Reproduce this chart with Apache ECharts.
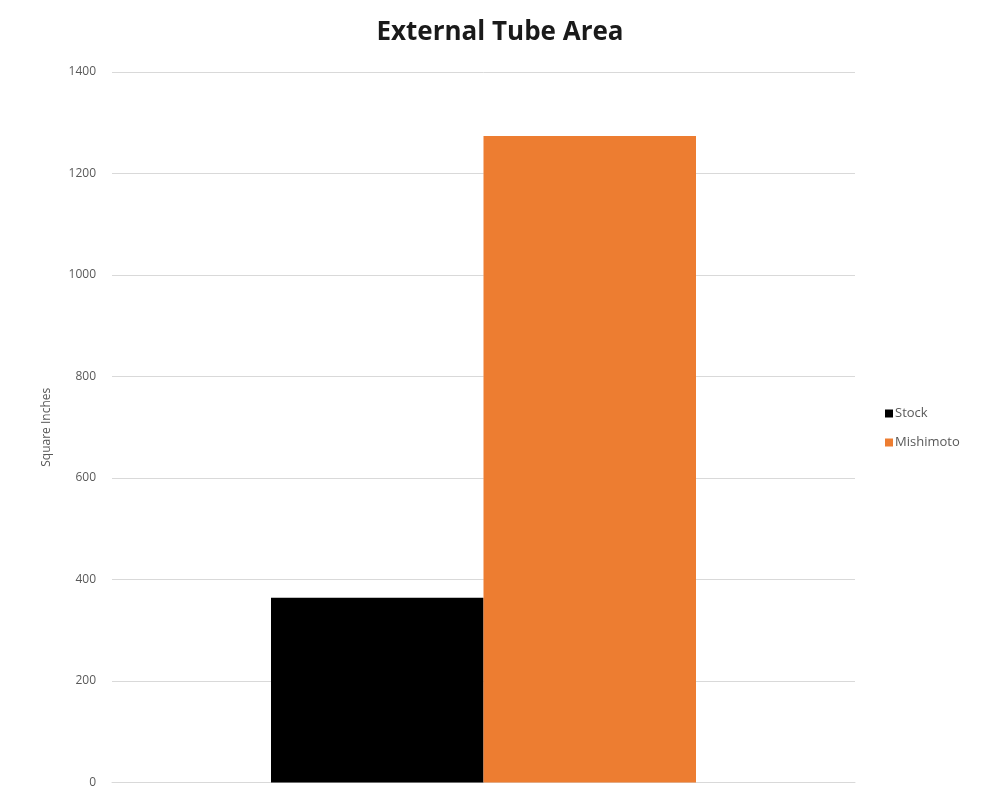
<!DOCTYPE html>
<html>
<head>
<meta charset="utf-8">
<script src="https://cdn.jsdelivr.net/npm/echarts@6/dist/echarts.min.js"></script>
<style>html,body{margin:0;padding:0;background:#fff}#c{width:1000px;height:800px}</style>
</head>
<body>
<div id="c"></div>
<script>
const categories = [''];
const stockValues = [364];
const mishimotoValues = [1274];
const seriesNames = ['Stock', 'Mishimoto'];

const chart = echarts.init(document.getElementById('c'), null, {renderer: 'canvas'});
chart.setOption({
  animation: false,
  backgroundColor: '#ffffff',
  title: {
    text: 'External Tube Area',
    left: 495, top: 15, textAlign: 'center',
    textStyle: {fontFamily: 'Open Sans', fontWeight: 'bold', fontSize: 26, color: '#1a1a1a'}
  },
  legend: {
    orient: 'vertical', left: 880, top: 402,
    itemWidth: 8, itemHeight: 8, itemGap: 16,
    icon: 'rect',
    textStyle: {fontFamily: 'Open Sans', fontSize: 13, color: '#595959', padding: [0,0,0,-3]},
    data: seriesNames
  },
  grid: {left: 112, right: 145, top: 72, bottom: 17.5, containLabel: false},
  xAxis: {
    type: 'category', data: categories,
    axisLine: {show: true, lineStyle: {color: '#d9d9d9', width: 1}},
    axisTick: {show: false}, axisLabel: {show: false}
  },
  yAxis: {
    type: 'value', min: 0, max: 1400, interval: 200,
    name: 'Square Inches', nameLocation: 'middle', nameGap: 59, nameRotate: 90,
    nameTextStyle: {fontFamily: 'Open Sans', fontSize: 12, color: '#595959'},
    axisLine: {show: false}, axisTick: {show: false},
    axisLabel: {fontFamily: 'Open Sans', fontSize: 12, color: '#595959', margin: 16, formatter: v => String(v)},
    splitLine: {lineStyle: {color: '#d9d9d9', width: 1}}
  },
  series: [
    {name: seriesNames[0], type: 'bar', data: stockValues, itemStyle: {color: '#000000'}, barGap: '0%', barCategoryGap: '42.8%'},
    {name: seriesNames[1], type: 'bar', data: mishimotoValues, itemStyle: {color: '#ed7d31'}, barGap: '0%', barCategoryGap: '42.8%'}
  ]
});
</script>
</body>
</html>
